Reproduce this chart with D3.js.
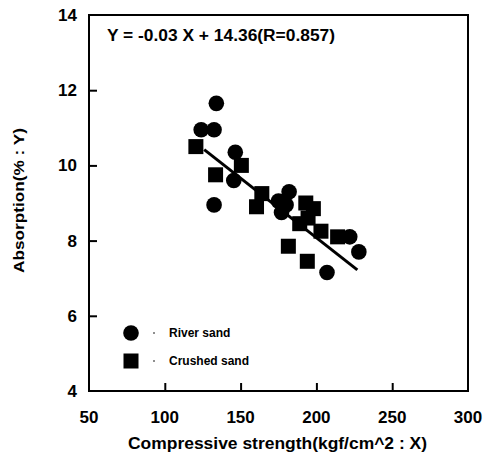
<!DOCTYPE html>
<html>
<head>
<meta charset="utf-8">
<script src="https://cdn.jsdelivr.net/npm/d3@7"></script>
<style>
  body { margin: 0; background: #fff; }
  text { font-family: "Liberation Sans", Arial, sans-serif; font-weight: bold; fill: #000; }
</style>
</head>
<body>
<div id="chart"></div>
<script>

// River sand (circles)
var riverX = [134, 124, 132.5, 146.5, 145.5, 132.5, 175, 182, 177, 180, 207, 222, 228];
var riverY = [11.65, 10.95, 10.95, 10.35, 9.6, 8.95, 9.05, 9.3, 8.75, 8.95, 7.15, 8.1, 7.7];

// Crushed sand (squares)
var crushedX = [120.5, 150.5, 133.5, 164, 160.5, 193, 194.5, 198, 189, 203, 214, 181.5, 194];
var crushedY = [10.5, 10.0, 9.75, 9.25, 8.9, 9.0, 8.6, 8.85, 8.45, 8.25, 8.1, 7.85, 7.45];

// regression line as drawn
var lineX = [126, 227];
var lineY = [10.42, 7.22];

var xTicks = [50, 100, 150, 200, 250, 300];
var yTicks = [4, 6, 8, 10, 12, 14];

var equation = "Y = -0.03 X + 14.36(R=0.857)";
var xTitle = "Compressive strength(kgf/cm^2 : X)";
var yTitle = "Absorption(% : Y)";
var legendNames = ["River sand", "Crushed sand"];


var margin = {top: 15, right: 26, bottom: 68, left: 89};
var width = 494 - margin.left - margin.right;
var height = 459 - margin.top - margin.bottom;

var svg = d3.select("#chart").append("svg")
    .attr("width", 494)
    .attr("height", 459)
    .append("g")
    .attr("transform", "translate(" + margin.left + "," + margin.top + ")");

var x = d3.scaleLinear().domain([50, 300]).range([0, width]);
var y = d3.scaleLinear().domain([4, 14]).range([height, 0]);

// frame
svg.append("rect")
    .attr("width", width)
    .attr("height", height)
    .attr("fill", "none")
    .attr("stroke", "#000")
    .attr("stroke-width", 2);

// inward ticks
var xAxis = d3.axisBottom(x).tickValues(xTicks.slice(1, -1)).tickSizeInner(-8).tickSizeOuter(0).tickFormat("");
var yAxis = d3.axisLeft(y).tickValues(yTicks.slice(1, -1)).tickSizeInner(-8).tickSizeOuter(0).tickFormat("");

svg.append("g")
    .attr("class", "x-axis")
    .attr("transform", "translate(0," + height + ")")
    .call(xAxis);
svg.append("g")
    .attr("class", "y-axis")
    .call(yAxis);
svg.selectAll(".domain").remove();
svg.selectAll(".tick line").attr("stroke", "#000").attr("stroke-width", 2);

// tick labels
svg.selectAll(".xlab")
    .data(xTicks)
    .enter().append("text")
    .attr("x", d => x(d))
    .attr("y", height + 32)
    .attr("text-anchor", "middle")
    .style("font-size", "17px")
    .text(d => d);

svg.selectAll(".ylab")
    .data(yTicks)
    .enter().append("text")
    .attr("x", -12)
    .attr("y", d => y(d))
    .attr("dy", "0.35em")
    .attr("text-anchor", "end")
    .style("font-size", "17px")
    .text(d => d);

// titles
svg.append("text")
    .attr("x", 39)
    .attr("y", height + 58)
    .attr("textLength", 299)
    .attr("lengthAdjust", "spacingAndGlyphs")
    .style("font-size", "16px")
    .text(xTitle);

svg.append("text")
    .attr("transform", "translate(-65," + (y(9) - 2) + ") rotate(-90)")
    .attr("x", -72)
    .attr("textLength", 145)
    .attr("lengthAdjust", "spacingAndGlyphs")
    .style("font-size", "15px")
    .text(yTitle);

svg.append("text")
    .attr("x", 18)
    .attr("y", 26)
    .attr("textLength", 228)
    .attr("lengthAdjust", "spacingAndGlyphs")
    .style("font-size", "16px")
    .text(equation);

// fit line
svg.append("line")
    .attr("x1", x(lineX[0])).attr("y1", y(lineY[0]))
    .attr("x2", x(lineX[1])).attr("y2", y(lineY[1]))
    .attr("stroke", "#000")
    .attr("stroke-width", 3);

// markers
svg.selectAll(".river")
    .data(riverX.map((d, i) => [d, riverY[i]]))
    .enter().append("circle")
    .attr("class", "river")
    .attr("cx", d => x(d[0]))
    .attr("cy", d => y(d[1]))
    .attr("r", 7.8)
    .attr("fill", "#000");

svg.selectAll(".crushed")
    .data(crushedX.map((d, i) => [d, crushedY[i]]))
    .enter().append("rect")
    .attr("class", "crushed")
    .attr("x", d => x(d[0]) - 7.5)
    .attr("y", d => y(d[1]) - 7.5)
    .attr("width", 15)
    .attr("height", 15)
    .attr("fill", "#000");

// legend
var legend = svg.append("g").attr("transform", "translate(42,318)");
legend.append("circle").attr("cx", 0).attr("cy", 0).attr("r", 7.8).attr("fill", "#000");
legend.append("rect").attr("x", -7.5).attr("y", 20.5).attr("width", 15).attr("height", 15).attr("fill", "#000");
legend.selectAll(".dot")
    .data(legendNames)
    .enter().append("circle")
    .attr("cx", 23)
    .attr("cy", (d, i) => i * 28)
    .attr("r", 0.8)
    .attr("fill", "#000");
legend.selectAll(".name")
    .data(legendNames)
    .enter().append("text")
    .attr("x", 38)
    .attr("y", (d, i) => i * 28)
    .attr("dy", "0.35em")
    .style("font-size", "12px")
    .text(d => d);

</script>
</body>
</html>
